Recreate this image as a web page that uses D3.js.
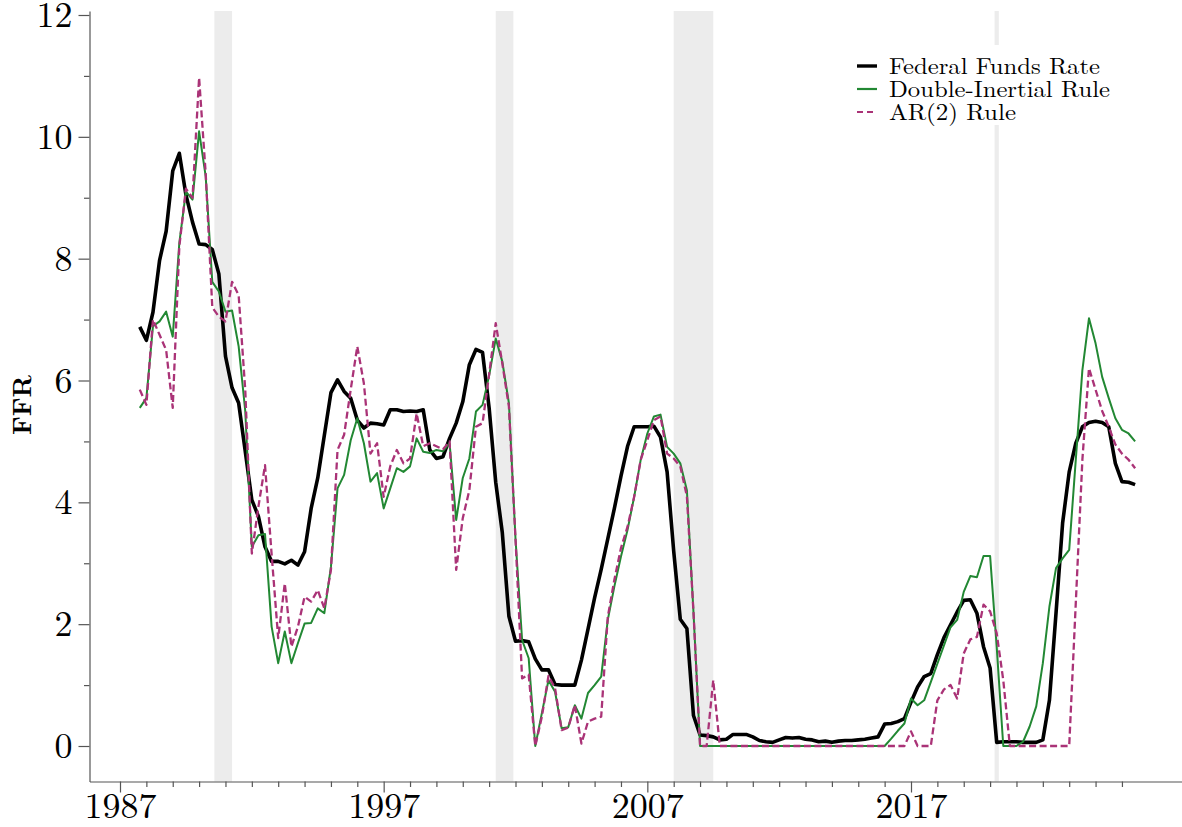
<!DOCTYPE html>
<html>
<head>
<meta charset="utf-8">
<script src="https://d3js.org/d3.v7.min.js"></script>
<style>
  body { margin: 0; background: #fff; }
  svg text { font-family: "Latin Modern Roman", "CMU Serif", "Liberation Serif", "Times New Roman", serif; }
</style>
</head>
<body>
<div id="chart"></div>
<script>
const w = 1182
const h = 827

// quarterly observations, 1987Q4 .. 2025Q3 (one row per year)
const firstQuarter = 1987.75
const ffr = [
  6.88,
  6.66, 7.12, 7.97, 8.45,   9.44, 9.73, 9.05, 8.6,    8.24, 8.23, 8.15, 7.75,
  6.4, 5.88, 5.63, 4.84,    4.04, 3.77, 3.27, 3.03,   3.03, 2.99, 3.05, 2.97,
  3.19, 3.9, 4.4, 5.1,      5.8, 6.01, 5.82, 5.71,    5.35, 5.22, 5.3, 5.29,
  5.27, 5.52, 5.52, 5.49,   5.5, 5.49, 5.52, 4.86,    4.72, 4.75, 5.05, 5.3,
  5.65, 6.26, 6.51, 6.46,   5.55, 4.33, 3.5, 2.13,    1.72, 1.73, 1.71, 1.43,
  1.25, 1.25, 1.01, 1.0,    1.0, 1.0, 1.41, 1.92,     2.43, 2.9, 3.4, 3.9,
  4.43, 4.92, 5.24, 5.24,   5.24, 5.25, 5.07, 4.5,    3.2, 2.08, 1.93, 0.5,
  0.18, 0.17, 0.15, 0.1,    0.11, 0.19, 0.19, 0.19,   0.15, 0.09, 0.07, 0.06,
  0.1, 0.14, 0.13, 0.14,    0.11, 0.1, 0.07, 0.08,    0.06, 0.08, 0.09, 0.09,
  0.1, 0.11, 0.13, 0.15,    0.36, 0.37, 0.4, 0.45,    0.72, 0.97, 1.14, 1.19,
  1.5, 1.78, 1.99, 2.2,     2.39, 2.4, 2.18, 1.63,    1.28, 0.06, 0.07, 0.07,
  0.07, 0.06, 0.06, 0.06,   0.1, 0.75, 2.18, 3.66,    4.5, 4.97, 5.24, 5.31,
  5.33, 5.31, 5.24, 4.64,   4.34, 4.33, 4.29
]
const doubleInertial = [
  5.55,
  5.71, 6.89, 6.97, 7.13,   6.72, 8.26, 9.1, 8.97,    10.09, 9.35, 7.62, 7.46,
  7.13, 7.15, 6.56, 5.5,    3.27, 3.46, 3.48, 1.96,   1.36, 1.88, 1.36, 1.69,
  2.01, 2.02, 2.26, 2.18,   2.94, 4.23, 4.45, 5.02,   5.38, 4.97, 4.34, 4.48,
  3.9, 4.23, 4.56, 4.5,     4.59, 5.05, 4.83, 4.81,   4.86, 4.84, 4.97, 3.71,
  4.4, 4.72, 5.49, 5.6,     6.08, 6.69, 6.31, 5.63,   3.4, 1.74, 1.44, 0.0,
  0.54, 1.08, 0.89, 0.29,   0.31, 0.67, 0.45, 0.87,   1.0, 1.14, 2.07, 2.62,
  3.11, 3.55, 4.09, 4.7,    5.13, 5.41, 5.44, 4.91,   4.8, 4.64, 4.2, 2.2,
  0, 0, 0, 0,               0, 0, 0, 0,               0, 0, 0, 0,
  0, 0, 0, 0,               0, 0, 0, 0,               0, 0, 0, 0,
  0, 0, 0, 0,               0, 0.12, 0.25, 0.37,      0.78, 0.67, 0.75, 1.05,
  1.35, 1.65, 1.95, 2.07,   2.53, 2.79, 2.77, 3.12,   3.12, 1.63, 0, 0,
  0, 0.07, 0.32, 0.65,      1.36, 2.29, 2.92, 3.08,   3.22, 4.7, 6.17, 7.02,
  6.61, 6.06, 5.71, 5.38,   5.19, 5.13, 5.0
]
const ar2 = [
  5.85,
  5.6, 7.0, 6.75, 6.5,      5.55, 8.2, 9.15, 9.0,     10.97, 9.4, 7.2, 7.05,
  6.97, 7.62, 7.4, 5.85,    3.16, 3.93, 4.61, 3.15,   1.77, 2.67, 1.63, 1.96,
  2.45, 2.37, 2.56, 2.26,   2.89, 4.86, 5.11, 5.85,   6.56, 5.95, 4.8, 4.97,
  4.09, 4.59, 4.86, 4.64,   4.72, 5.46, 4.92, 4.97,   4.92, 4.87, 5.0, 2.89,
  3.74, 4.2, 5.24, 5.3,     6.1, 6.94, 6.28, 5.57,    3.4, 1.11, 1.17, 0.0,
  0.48, 1.15, 0.95, 0.26,   0.3, 0.67, 0.04, 0.4,     0.45, 0.48, 2.12, 2.73,
  3.25, 3.6, 4.09, 4.7,     5.02, 5.35, 5.41, 4.8,    4.72, 4.59, 4.1, 2.2,
  0, 0, 1.08, 0,            0, 0, 0, 0,               0, 0, 0, 0,
  0, 0, 0, 0,               0, 0, 0, 0,               0, 0, 0, 0,
  0, 0, 0, 0,               0, 0, 0, 0,               0.24, 0, 0, 0,
  0.75, 0.93, 1.0, 0.78,    1.52, 1.75, 1.79, 2.32,   2.21, 1.85, 1.08, 0,
  0, 0, 0, 0,               0, 0, 0, 0,               0, 2.35, 4.7, 6.2,
  5.85, 5.5, 5.24, 4.95,    4.8, 4.7, 4.56
]

// NBER recessions (shaded)
const recessions = [[1990.58, 1991.25], [2001.25, 2001.92], [2008.0, 2009.5], [2020.17, 2020.33]]

const xMajorTicks = [1987, 1997, 2007, 2017]
const xMinorTicks = [1988, 1989, 1990, 1991, 1992, 1993, 1994, 1995, 1996,
  1998, 1999, 2000, 2001, 2002, 2003, 2004, 2005, 2006,
  2008, 2009, 2010, 2011, 2012, 2013, 2014, 2015, 2016,
  2018, 2019, 2020, 2021, 2022, 2023, 2024, 2025]
const yMajorTicks = [0, 2, 4, 6, 8, 10, 12]
const yMinorTicks = [1, 3, 5, 7, 9, 11]

const seriesNames = ["Federal Funds Rate", "Double-Inertial Rule", "AR(2) Rule"]
const colors = ["#000000", "#228833", "#AA3377"]

const svg = d3.select("#chart")
  .append("svg")
  .attr("width", w)
  .attr("height", h)

const plotLeft = 89.5
const plotRight = 1182
const plotBottom = 781.5
const plotTop = 11

const x = d3.scaleLinear().domain([1987, 2017]).range([120, 911])
x.domain([x.invert(plotLeft), x.invert(plotRight)]).range([plotLeft, plotRight])

const y = d3.scaleLinear().domain([0, 12]).range([746, 15])
y.domain([y.invert(plotBottom), y.invert(plotTop)]).range([plotBottom, plotTop])

const dates = ffr.map((d, i) => firstQuarter + i * 0.25)

// recession bands
svg.append("g")
  .selectAll("rect")
  .data(recessions)
  .enter()
  .append("rect")
  .attr("x", d => x(d[0]))
  .attr("width", d => x(d[1]) - x(d[0]))
  .attr("y", plotTop)
  .attr("height", plotBottom - plotTop)
  .attr("fill", "#ececec")

// axes
const axisColor = "#555"
const styleAxis = g => {
  g.selectAll("path,line").attr("stroke", axisColor).attr("stroke-width", 1.2)
  g.selectAll("text").attr("fill", "#000").attr("font-size", 36)
}

svg.append("g")
  .attr("transform", `translate(0,${plotBottom})`)
  .call(d3.axisBottom(x).tickValues(xMinorTicks).tickSize(5.5).tickSizeOuter(0).tickFormat(""))
  .call(styleAxis)
svg.append("g")
  .attr("transform", `translate(0,${plotBottom})`)
  .call(d3.axisBottom(x).tickValues(xMajorTicks).tickSize(11).tickSizeOuter(0).tickFormat(d3.format("d")))
  .call(g => g.select(".domain").remove())
  .call(styleAxis)
  .call(g => g.selectAll("text").attr("y", 36.5).attr("dy", "0"))

svg.append("g")
  .attr("transform", `translate(${plotLeft},0)`)
  .call(d3.axisLeft(y).tickValues(yMinorTicks).tickSize(5.5).tickSizeOuter(0).tickFormat(""))
  .call(styleAxis)
svg.append("g")
  .attr("transform", `translate(${plotLeft},0)`)
  .call(d3.axisLeft(y).tickValues(yMajorTicks).tickSize(11).tickSizeOuter(0))
  .call(g => g.select(".domain").remove())
  .call(styleAxis)
  .call(g => g.selectAll("text").attr("x", -17))

svg.append("text")
  .attr("transform", "rotate(-90)")
  .attr("x", -405)
  .attr("y", 31)
  .attr("text-anchor", "middle")
  .attr("font-size", 26)
  .attr("font-weight", "bold")
  .text("FFR")

// lines
const line = d3.line()
  .x((d, i) => x(dates[i]))
  .y(d => y(d))

const series = [
  {values: ffr, color: colors[0], width: 3.6, dash: null},
  {values: doubleInertial, color: colors[1], width: 2, dash: null},
  {values: ar2, color: colors[2], width: 2.3, dash: "7,3.5"}
]

svg.append("g")
  .selectAll("path")
  .data(series)
  .enter()
  .append("path")
  .attr("d", d => line(d.values))
  .attr("fill", "none")
  .attr("stroke", d => d.color)
  .attr("stroke-width", d => d.width)
  .attr("stroke-dasharray", d => d.dash)
  .attr("stroke-linejoin", "round")

// legend
const legend = svg.append("g")
legend.append("rect")
  .attr("x", 847)
  .attr("y", 45)
  .attr("width", 272)
  .attr("height", 80)
  .attr("fill", "#fff")

const legendRows = legend.selectAll("g.row")
  .data(series)
  .enter()
  .append("g")
  .attr("class", "row")
  .attr("transform", (d, i) => `translate(857,${66 + i * 23})`)

legendRows.append("line")
  .attr("x1", 0)
  .attr("x2", 20)
  .attr("stroke", d => d.color)
  .attr("stroke-width", (d, i) => i === 0 ? 3.4 : 2.2)
  .attr("stroke-dasharray", d => d.dash ? "6,4" : null)

legendRows.append("text")
  .attr("x", 32)
  .attr("dy", "0.33em")
  .attr("font-size", 23)
  .attr("textLength", (d, i) => [211, 221, 127][i])
  .attr("lengthAdjust", "spacingAndGlyphs")
  .text((d, i) => seriesNames[i])
</script>
</body>
</html>
